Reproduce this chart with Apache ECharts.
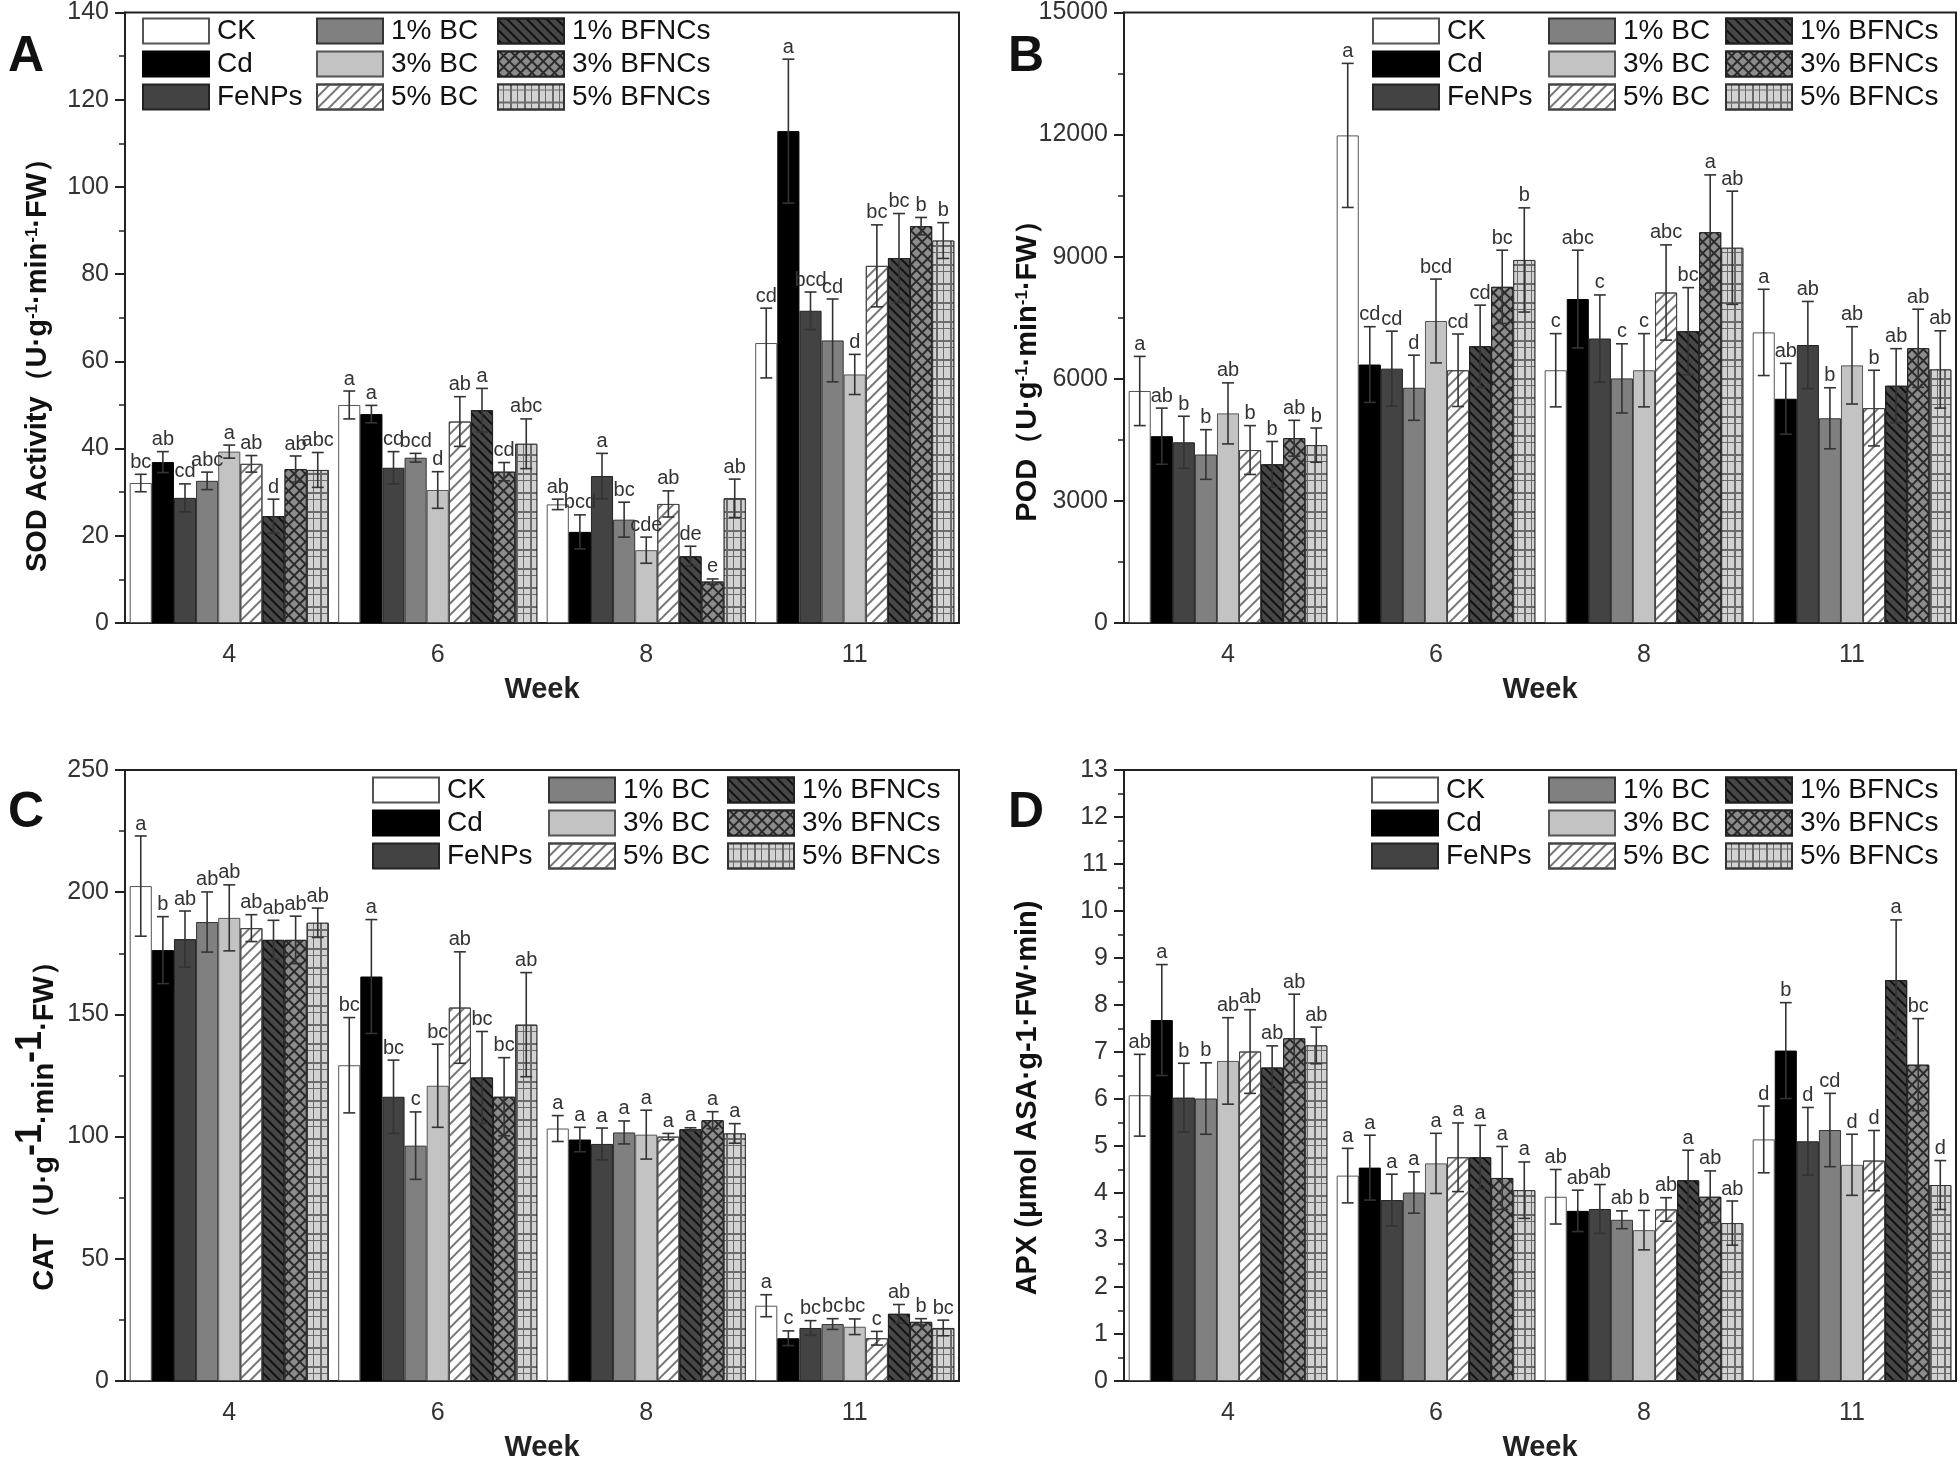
<!DOCTYPE html>
<html><head><meta charset="utf-8">
<script src="https://cdn.jsdelivr.net/npm/echarts@6/dist/echarts.min.js"></script>
<style>html,body{margin:0;padding:0;background:#fff}#c{width:1960px;height:1463px}</style>
</head><body><div id="c"></div>
<script>
const weeks = ['4', '6', '8', '11'];
const treatments = ['CK', 'Cd', 'FeNPs', '1% BC', '3% BC', '5% BC', '1% BFNCs', '3% BFNCs', '5% BFNCs'];

// rows = treatments, columns = weeks 4, 6, 8, 11
const sodMean = [
  [32.1, 50.0, 27.2, 64.2], [36.9, 47.9, 20.9, 112.8], [28.7, 35.6, 33.7, 71.6],
  [32.6, 37.9, 23.7, 64.8], [39.3, 30.5, 16.7, 57.0], [36.5, 46.2, 27.3, 81.9],
  [24.5, 48.8, 15.3, 83.7], [35.3, 34.7, 9.5, 91.0], [35.1, 41.1, 28.6, 87.7]
];
const sodErr = [
  [2.0, 3.2, 1.2, 8.0], [2.4, 2.0, 3.9, 16.5], [3.2, 3.7, 5.2, 4.3],
  [2.0, 1.0, 4.0, 9.5], [1.5, 4.2, 3.0, 4.6], [1.9, 5.7, 3.0, 9.4],
  [3.9, 5.0, 2.3, 10.2], [3.0, 2.1, 0.6, 2.0], [4.0, 5.7, 4.4, 4.1]
];
const sodLetters = [
  ['bc', 'a', 'ab', 'cd'], ['ab', 'a', 'bcd', 'a'], ['cd', 'cd', 'a', 'bcd'],
  ['abc', 'bcd', 'bc', 'cd'], ['a', 'd', 'cde', 'd'], ['ab', 'ab', 'ab', 'bc'],
  ['d', 'a', 'de', 'bc'], ['ab', 'cd', 'e', 'b'], ['abc', 'abc', 'ab', 'b']
];

const podMean = [
  [5700, 11980, 6210, 7140], [4590, 6350, 7960, 5510], [4440, 6250, 6990, 6830],
  [4140, 5780, 6010, 5030], [5150, 7420, 6210, 6330], [4250, 6210, 8120, 5280],
  [3900, 6800, 7170, 5830], [4540, 8260, 9600, 6750], [4370, 8920, 9220, 6230]
];
const podErr = [
  [850, 1770, 900, 1060], [690, 930, 1200, 870], [640, 920, 1070, 1070],
  [610, 800, 850, 750], [750, 1030, 900, 950], [600, 890, 1170, 930],
  [560, 1010, 1070, 910], [440, 900, 1410, 960], [420, 1280, 1390, 950]
];
const podLetters = [
  ['a', 'a', 'c', 'a'], ['ab', 'cd', 'abc', 'ab'], ['b', 'cd', 'c', 'ab'],
  ['b', 'd', 'c', 'b'], ['ab', 'bcd', 'c', 'ab'], ['b', 'cd', 'abc', 'b'],
  ['b', 'cd', 'bc', 'ab'], ['ab', 'bc', 'a', 'ab'], ['b', 'b', 'ab', 'ab']
];

const catMean = [
  [202.5, 129.2, 103.3, 30.8], [176.3, 165.5, 98.8, 17.5], [180.8, 116.3, 97.0, 21.7],
  [187.8, 96.3, 101.7, 23.3], [189.5, 120.8, 100.8, 22.2], [185.3, 152.8, 100.0, 17.5],
  [180.5, 124.2, 103.0, 27.5], [180.5, 116.3, 106.7, 24.2], [187.5, 145.8, 101.3, 21.7]
];
const catErr = [
  [20.5, 19.5, 5.3, 4.5], [13.7, 23.3, 5.0, 3.0], [11.5, 15.0, 6.5, 3.0],
  [12.3, 13.8, 4.7, 2.2], [13.5, 17.0, 10.0, 3.2], [5.5, 22.8, 1.3, 2.8],
  [8.0, 18.8, 0.6, 3.8], [9.7, 16.0, 3.5, 1.3], [6.0, 21.3, 4.0, 3.2]
];
const catLetters = [
  ['a', 'bc', 'a', 'a'], ['b', 'a', 'a', 'c'], ['ab', 'bc', 'a', 'bc'],
  ['ab', 'c', 'a', 'bc'], ['ab', 'bc', 'a', 'bc'], ['ab', 'ab', 'a', 'c'],
  ['ab', 'bc', 'a', 'ab'], ['ab', 'bc', 'a', 'b'], ['ab', 'ab', 'a', 'bc']
];

const apxMean = [
  [6.08, 4.37, 3.92, 5.14], [7.68, 4.54, 3.62, 7.03], [6.03, 3.85, 3.66, 5.10],
  [6.01, 4.01, 3.43, 5.34], [6.81, 4.63, 3.21, 4.60], [7.01, 4.76, 3.65, 4.69],
  [6.67, 4.76, 4.27, 8.53], [7.29, 4.32, 3.92, 6.73], [7.14, 4.06, 3.36, 4.17]
];
const apxErr = [
  [0.87, 0.58, 0.58, 0.71], [1.18, 0.69, 0.44, 1.02], [0.73, 0.55, 0.52, 0.72],
  [0.76, 0.44, 0.19, 0.78], [0.92, 0.64, 0.42, 0.65], [0.89, 0.73, 0.25, 0.64],
  [0.46, 0.68, 0.64, 1.28], [0.94, 0.67, 0.55, 0.98], [0.39, 0.60, 0.47, 0.52]
];
const apxLetters = [
  ['ab', 'a', 'ab', 'd'], ['a', 'a', 'ab', 'b'], ['b', 'a', 'ab', 'd'],
  ['b', 'a', 'ab', 'cd'], ['ab', 'a', 'b', 'd'], ['ab', 'a', 'ab', 'd'],
  ['ab', 'a', 'a', 'a'], ['ab', 'a', 'ab', 'bc'], ['ab', 'a', 'ab', 'd']
];

const FONT = "'Liberation Sans', Arial, sans-serif";

const barStyles = [
  { color: '#ffffff', borderColor: '#555' },
  { color: '#000000', borderColor: '#000' },
  { color: '#434343', borderColor: '#222' },
  { color: '#808080', borderColor: '#333' },
  { color: '#c3c3c3', borderColor: '#555' },
  { color: '#ffffff', borderColor: '#444', decal: { symbol: 'rect', symbolSize: 1, dashArrayX: [1, 0], dashArrayY: [1.5, 6], rotation: -Math.PI / 4, color: '#777' } },
  { color: '#474747', borderColor: '#222', decal: { symbol: 'rect', symbolSize: 1, dashArrayX: [1, 0], dashArrayY: [1.5, 5], rotation: Math.PI / 4, color: '#111' } },
  { color: '#2a2a2a', borderColor: '#222', decal: { symbol: 'rect', symbolSize: 1, dashArrayX: [6, 1.3], dashArrayY: [6, 1.3], rotation: Math.PI / 4, color: '#8c8c8c' } },
  { color: '#6a6a6a', borderColor: '#333', decal: { symbol: 'rect', symbolSize: 1, dashArrayX: [5, 1, 6, 1.4], dashArrayY: [5, 1, 11, 1.6], rotation: 0, color: '#d2d2d2' } }
];

const panels = [
  { letter: 'A', mean: sodMean, err: sodErr, lets: sodLetters, max: 140, interval: 20,
    grid: { left: 125, top: 12, width: 834, height: 611 }, legendLeft: [142, 316, 497], legendTop: 17,
    title: '{b|SOD Activity（U·g}{s|-1}{b|·min}{s|-1}{b|·FW）}', titleX: 38, titleY: 358, letterX: 8, letterY: 60 },
  { letter: 'B', mean: podMean, err: podErr, lets: podLetters, max: 15000, interval: 3000,
    grid: { left: 1124, top: 12, width: 832, height: 611 }, legendLeft: [1372, 1548, 1725], legendTop: 17,
    title: '{b|POD（U·g}{s|-1}{b|·min}{s|-1}{b|·FW）}', titleX: 1028, titleY: 364, letterX: 1008, letterY: 60 },
  { letter: 'C', mean: catMean, err: catErr, lets: catLetters, max: 250, interval: 50,
    grid: { left: 125, top: 770, width: 834, height: 611 }, legendLeft: [372, 548, 727], legendTop: 776,
    title: '{B|CAT（U·g}{S|-1}{B|·min}{S|-1}{B|·FW）}', titleX: 36, titleY: 1119, letterX: 8, letterY: 816 },
  { letter: 'D', mean: apxMean, err: apxErr, lets: apxLetters, max: 13, interval: 1,
    grid: { left: 1124, top: 770, width: 832, height: 611 }, legendLeft: [1371, 1548, 1725], legendTop: 776,
    title: '{b|APX (μmol ASA·g-1·FW·min)}', titleX: 1028, titleY: 1098, letterX: 1008, letterY: 816 }
];

const CAT_GAP = 0.045;
const option = { backgroundColor: '#ffffff', animation: false, grid: [], xAxis: [], yAxis: [], legend: [], series: [], graphic: [] };

panels.forEach((p, pi) => {
  option.grid.push(Object.assign({ show: true, borderColor: '#222', borderWidth: 2, backgroundColor: 'transparent' }, p.grid));
  option.xAxis.push({
    type: 'category', gridIndex: pi, data: weeks, name: 'Week', nameLocation: 'middle', nameGap: 52,
    nameTextStyle: { fontSize: 29, fontWeight: 'bold', color: '#222', fontFamily: FONT },
    axisLine: { lineStyle: { color: '#222', width: 2 } },
    axisTick: { alignWithLabel: true, length: 10, lineStyle: { color: '#222', width: 2 } },
    axisLabel: { fontSize: 25, color: '#333', margin: 20, fontFamily: FONT },
    splitLine: { show: false }
  });
  option.yAxis.push({
    type: 'value', gridIndex: pi, min: 0, max: p.max, interval: p.interval,
    axisLine: { show: true, lineStyle: { color: '#222', width: 2 } },
    axisTick: { show: true, length: 10, lineStyle: { color: '#222', width: 2 } },
    minorTick: { show: true, splitNumber: 2, length: 6, lineStyle: { color: '#222', width: 1.5 } },
    axisLabel: { fontSize: 25, color: '#333', margin: 16, fontFamily: FONT, formatter: v => String(v) },
    splitLine: { show: false }, minorSplitLine: { show: false }
  });
  [0, 1, 2].forEach(col => {
    option.legend.push({
      orient: 'vertical', left: p.legendLeft[col], top: p.legendTop, padding: 0,
      itemWidth: 66, itemHeight: 25, itemGap: 5, icon: 'rect',
      selectedMode: false,
      textStyle: { fontSize: 28, color: '#111', fontFamily: FONT, lineHeight: 25, padding: [0, 0, 0, 3] },
      data: treatments.slice(col * 3, col * 3 + 3)
    });
  });
  treatments.forEach((t, i) => {
    option.series.push({
      type: 'bar', name: t, xAxisIndex: pi, yAxisIndex: pi, data: p.mean[i],
      barGap: '0%', barCategoryGap: (CAT_GAP * 100) + '%',
      itemStyle: Object.assign({ borderWidth: 1 }, barStyles[i]),
      emphasis: { disabled: true }
    });
  });
  treatments.forEach((t, i) => {
    option.series.push({
      type: 'custom', name: 'err-' + p.letter + '-' + i, xAxisIndex: pi, yAxisIndex: pi, z: 5, silent: true,
      data: weeks.map((w, j) => [j, p.mean[i][j], p.err[i][j]]),
      renderItem: (params, api) => {
        const j = api.value(0), m = api.value(1), e = api.value(2);
        const band = api.size([1, 0])[0];
        const inner = band * (1 - CAT_GAP);
        const bw = inner / 9;
        const cx = api.coord([j, 0])[0] - inner / 2 + (i + 0.5) * bw;
        const yt = api.coord([j, m + e])[1];
        const yb = api.coord([j, m - e])[1];
        const cap = bw * 0.27;
        const ls = { stroke: '#333', lineWidth: 1.6 };
        return {
          type: 'group', children: [
            { type: 'line', shape: { x1: cx, y1: yt, x2: cx, y2: yb }, style: ls },
            { type: 'line', shape: { x1: cx - cap, y1: yt, x2: cx + cap, y2: yt }, style: ls },
            { type: 'line', shape: { x1: cx - cap, y1: yb, x2: cx + cap, y2: yb }, style: ls },
            { type: 'text', x: cx, y: yt - 2, style: { text: p.lets[i][params.dataIndex], fontSize: 20, fontFamily: FONT, fill: '#333', align: 'center', verticalAlign: 'bottom', textAlign: 'center', textVerticalAlign: 'bottom' } }
          ]
        };
      }
    });
  });
  option.graphic.push({
    type: 'text', left: p.letterX, top: p.letterY - 28,
    style: { text: p.letter, fontSize: 50, fontWeight: 'bold', fontFamily: FONT, fill: '#111' }
  });
  option.graphic.push({
    type: 'text', x: p.titleX, y: p.titleY, rotation: Math.PI / 2,
    style: {
      text: p.title, align: 'center', verticalAlign: 'middle', fill: '#111',
      rich: {
        b: { fontSize: 29, fontWeight: 'bold', fontFamily: FONT, fill: '#111' },
        s: { fontSize: 17, fontWeight: 'bold', fontFamily: FONT, fill: '#111', verticalAlign: 'top' },
        B: { fontSize: 29, fontWeight: 'bold', fontFamily: FONT, fill: '#111', verticalAlign: 'bottom', lineHeight: 46 },
        S: { fontSize: 36, fontWeight: 'bold', fontFamily: FONT, fill: '#111', verticalAlign: 'top', lineHeight: 46 }
      }
    }
  });
});

const chart = echarts.init(document.getElementById('c'), null, { renderer: 'canvas' });
chart.setOption(option);
</script>
</body></html>
